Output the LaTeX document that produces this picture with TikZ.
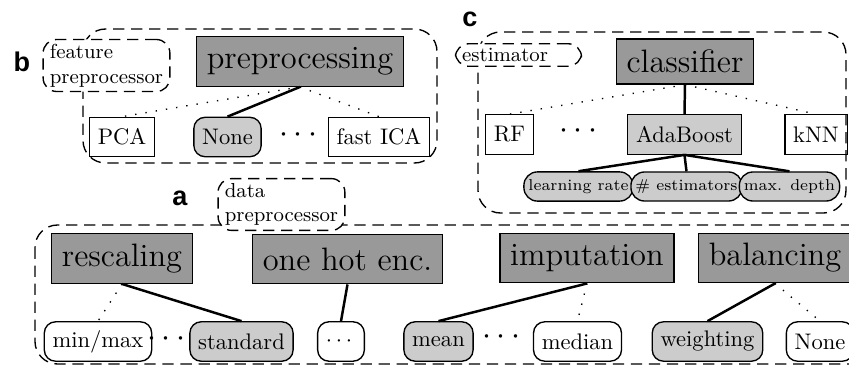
\documentclass[tikz,border=0pt]{standalone}
\usepackage{amsmath}
\usepackage{fontspec}
\newfontfamily\panelfont{Liberation Sans}
\usepackage{tikz}

\begin{document}
\begin{tikzpicture}[x = 0.444pt, y = -0.444pt,
	cat/.style = {draw, semithick, fill = black!40, font = \Large, minimum height = 22pt, inner xsep = 4.5pt},
	opt/.style = {draw, semithick, minimum height = 17.5pt, inner xsep = 3.7pt},
	pick/.style = {opt, fill = black!20},
	soft/.style = {rounded corners = 5pt},
	hyp/.style = {draw, semithick, fill = black!20, rounded corners = 6pt, font = \scriptsize, minimum height = 12pt, inner xsep = 2pt},
	grp/.style = {semithick, dash pattern = on 5pt off 3pt, rounded corners = 10pt},
	tag/.style = {draw, semithick, fill = white, dash pattern = on 5pt off 3pt, rounded corners = 6pt, font = \small, align = left, inner xsep = 3pt, inner ysep = 2pt},
	gap/.style = {font = \Large},
	chosen/.style = {line width = 1.1pt},
	other/.style = {loosely dotted, semithick},
	panel/.style = {font = \panelfont\bfseries\large}]
							\clip (0, 0) rectangle (849, 367);

							\draw[grp] (83, 29) rectangle (437, 163);
							\draw[grp] (478, 32) rectangle (846, 213);
							\draw[grp] (35, 225) rectangle (880, 364);

							\node[panel] (lb) at (22, 62) {b};
							\node[tag] (ft) at (106.5, 65.5) {feature\\preprocessor};
							\node[cat] (pre) at (300, 61.5) {preprocessing};
							\node[opt] (pca) at (122, 137) {PCA};
							\node[pick, soft] (nb) at (227.5, 137) {None};
							\node[gap] (db) at (301, 135) {$\cdots$};
							\node[opt] (ica) at (379, 137) {fast ICA};
							\draw[other] (pre.south)--(pca.north);
							\draw[chosen] (pre.south)--(nb.north);
							\draw[other] (pre.south)--(ica.north);

							\node[panel] (lc) at (470, 19) {c};
							\node[tag, text width = 50pt] (et) at (518.5, 55) {estimator};
							\node[cat, minimum height = 20pt] (cls) at (685, 61.5) {classifier};
							\node[opt] (rf) at (509.5, 134.5) {RF};
							\node[gap] (dc) at (581, 131) {$\cdots$};
							\node[pick] (ada) at (684.5, 134.5) {AdaBoost};
							\node[opt] (knn) at (816, 134.5) {kNN};
							\node[hyp] (lr) at (578.5, 186.5) {learning rate};
							\node[hyp] (ne) at (686.5, 186.5) {\# estimators};
							\node[hyp] (md) at (789.5, 186.5) {max. depth};
							\draw[other] (cls.south)--(rf.north);
							\draw[chosen] (cls.south)--(ada.north);
							\draw[other] (cls.south)--(knn.north);
							\draw[chosen] (ada.south)--(lr.north);
							\draw[chosen] (ada.south)--(ne.north);
							\draw[chosen] (ada.south)--(md.north);

							\node[panel] (la) at (180, 198) {a};
							\node[tag] (dt) at (281.5, 204.5) {data\\preprocessor};
							\node[cat] (res) at (122, 258.5) {rescaling};
							\node[cat] (ohe) at (347.5, 259) {one hot enc.};
							\node[cat] (imp) at (587, 258) {imputation};
							\node[cat] (bal) at (775, 258) {balancing};
							\node[opt, soft] (mm) at (98, 341.5) {$\mathrm{min}/\mathrm{max}$};
							\node[gap] (d1) at (169, 339) {$\cdots$};
							\node[pick, soft] (std) at (241.5, 341.5) {standard};
							\node[opt, soft] (oo) at (341, 341.5) {$\cdots$};
							\node[pick, soft] (mean) at (438.5, 341.5) {mean};
							\node[gap] (d2) at (504, 337) {$\cdots$};
							\node[opt, soft] (med) at (577.5, 341.5) {median};
							\node[pick, soft] (wgt) at (707.5, 341.5) {weighting};
							\node[opt, soft] (na) at (820, 341.5) {None};
							\draw[other] (res.south)--(mm.north);
							\draw[chosen] (res.south)--(std.north);
							\draw[chosen] (ohe.south)--(oo.north);
							\draw[chosen] (imp.south)--(mean.north);
							\draw[other] (imp.south)--(med.north);
							\draw[chosen] (bal.south)--(wgt.north);
							\draw[other] (bal.south)--(na.north);
						\end{tikzpicture}
\end{document}
